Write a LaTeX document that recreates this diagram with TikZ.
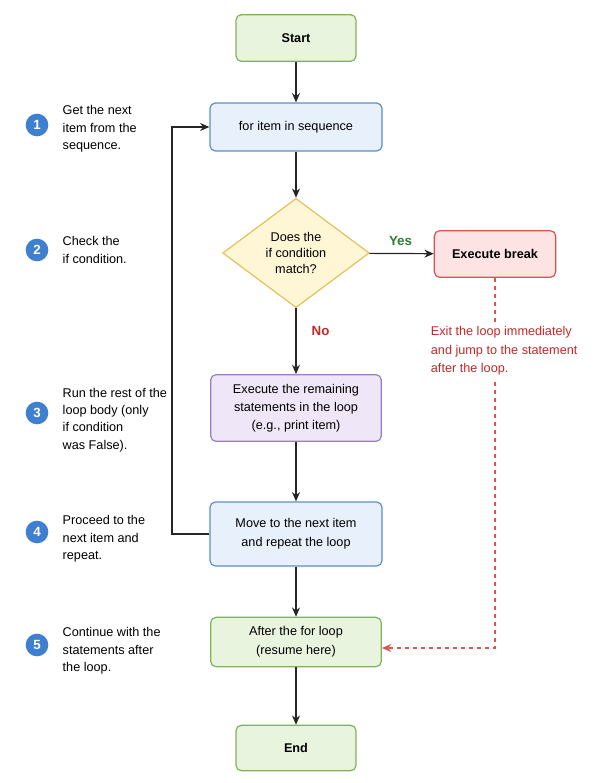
\documentclass[tikz,border=0pt]{standalone}
\usepackage{fontspec}
\setmainfont{Liberation Sans}
\usetikzlibrary{shapes.geometric,arrows.meta}
\definecolor{gfill}{HTML}{E9F4DF}\definecolor{gline}{HTML}{7DB35C}
\definecolor{bfill}{HTML}{E7F0FB}\definecolor{bline}{HTML}{5B8FC9}
\definecolor{rfill}{HTML}{FDE3E3}\definecolor{rline}{HTML}{D9534F}
\definecolor{pfill}{HTML}{EFE7F7}\definecolor{pline}{HTML}{9A7CCB}
\definecolor{yfill}{HTML}{FFF6D6}\definecolor{yline}{HTML}{E2C25A}
\definecolor{numc}{HTML}{3F7FD0}\definecolor{redt}{HTML}{C62828}\definecolor{greent}{HTML}{2E7D32}
\tikzset{
 box/.style={draw, rounded corners=4pt, line width=0.9pt, align=center, font=\fontsize{9.5}{12}\selectfont, inner sep=0pt},
 gbox/.style={box, fill=gfill, draw=gline},
 bbox/.style={box, fill=bfill, draw=bline},
 arr/.style={-{Stealth[length=7pt,width=6pt]}, line width=0.9pt, black!85},
 num/.style={circle, fill=numc, text=white, minimum size=17pt, inner sep=0pt, font=\bfseries\fontsize{10}{12}\selectfont},
 note/.style={anchor=west, align=left, font=\fontsize{9.5}{13}\selectfont},
}
\begin{document}
\begin{tikzpicture}[x=0.75pt,y=-0.75pt]
\useasboundingbox (0,0) rectangle (600,783);
\node[gbox, minimum width=90pt, minimum height=35pt, font=\bfseries\fontsize{9.5}{12}\selectfont] (start) at (296,38) {Start};
\node[bbox, minimum width=129pt, minimum height=36pt] (for) at (296,127) {for item in sequence};
\node[diamond, draw=yline, fill=yfill, line width=0.9pt, aspect=1.33, minimum width=110pt, minimum height=82pt, inner sep=0pt, align=center, font=\fontsize{9.5}{12}\selectfont] (cond) at (296,253) {Does the\\if condition\\match?};
\node[box, fill=rfill, draw=rline, minimum width=91pt, minimum height=35pt, font=\bfseries\fontsize{9.5}{12}\selectfont] (brk) at (495,254) {Execute break};
\node[box, fill=pfill, draw=pline, minimum width=128pt, minimum height=50pt, font=\fontsize{9.5}{13.5}\selectfont] (rem) at (296,408) {Execute the remaining\\statements in the loop\\(e.g., print item)};
\node[bbox, minimum width=129pt, minimum height=48pt, font=\fontsize{9.5}{14}\selectfont] (next) at (296,534) {Move to the next item\\and repeat the loop};
\node[gbox, minimum width=128pt, minimum height=37pt, font=\fontsize{9.5}{14}\selectfont] (after) at (296,642) {After the for loop\\(resume here)};
\node[gbox, minimum width=90pt, minimum height=34pt, font=\bfseries\fontsize{9.5}{12}\selectfont] (end) at (296,748) {End};

\draw[arr] (start) -- (for);
\draw[arr] (for) -- (cond);
\draw[arr] (cond) -- node[pos=0.4, above, font=\bfseries\fontsize{10}{12}\selectfont, text=greent, xshift=4pt, yshift=2pt]{Yes} (brk);
\draw[arr] (cond) -- node[pos=0.35, right, font=\bfseries\fontsize{10}{12}\selectfont, text=redt, xshift=8pt]{No} (rem);
\draw[arr] (rem) -- (next);
\draw[arr] (next) -- (after);
\draw[arr] (after) -- (end);
\coordinate (l1) at (172,534); \coordinate (l2) at (172,127);
\draw[arr] (next.west) -- (l1) -- (l2) -- (for.west);
\coordinate (d1) at (495,648);
\draw[-{Stealth[length=7pt,width=6pt]}, dashed, rline, line width=0.8pt] (brk.south) -- (d1) -- (after.east |- d1);
\node[note, text=redt, fill=white, inner sep=2pt, font=\fontsize{9.5}{14}\selectfont] (exit) at (428,351) {Exit the loop immediately\\and jump to the statement\\after the loop.};

\node[num] (n1) at (37,125) {1};
\node[note] (t1) at (58,129) {Get the next\\item from the\\sequence.};
\node[num] (n2) at (37,250) {2};
\node[note] (t2) at (58,250) {Check the\\if condition.};
\node[num] (n3) at (37,413) {3};
\node[note] (t3) at (58,420) {Run the rest of the\\loop body (only\\if condition\\was False).};
\node[num] (n4) at (37,532) {4};
\node[note] (t4) at (58,539) {Proceed to the\\next item and\\repeat.};
\node[num] (n5) at (37,645) {5};
\node[note] (t5) at (58,651) {Continue with the\\statements after\\the loop.};
\end{tikzpicture}
\end{document}
